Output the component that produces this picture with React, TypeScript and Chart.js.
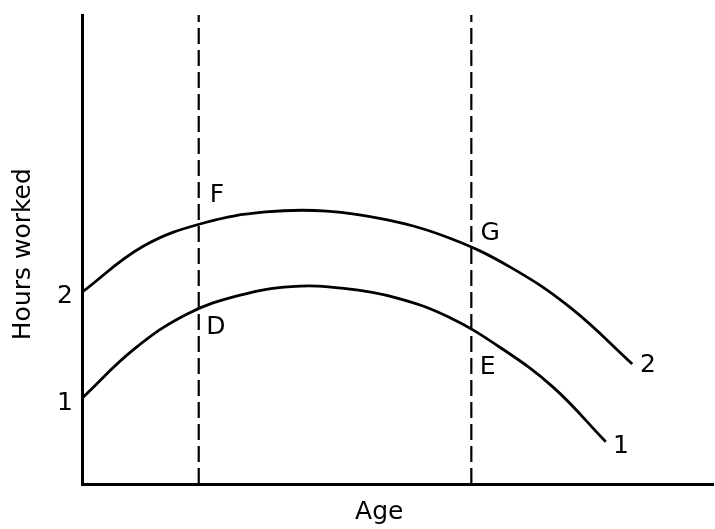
import React, { useEffect, useRef } from "react";
import { Chart, registerables } from "chart.js";

Chart.register(...registerables);

// Curve 1 (lower) and curve 2 (upper): hours worked vs age
const curve1X = [0, 8.3, 16.6, 24.9, 33.2, 41.5, 49.8, 58.1, 66.4, 74.7, 83.0];
const curve1Y = [18.3, 28.8, 36.2, 40.2, 42.1, 41.7, 39.7, 35.6, 29.0, 20.6, 9.0];
const curve2X = [0, 9.7, 19.4, 29.1, 38.8, 48.4, 58.1, 67.8, 77.5, 87.2];
const curve2Y = [40.9, 50.7, 55.7, 58.0, 58.2, 56.3, 52.5, 46.3, 37.5, 25.6];

// Vertical dashed age markers
const markerAges = [18.5, 61.7];
const markerRange = [0, 100];

// Point labels
const labelTexts = ["2", "1", "F", "D", "G", "E", "2", "1"];
const labelX = [-2.7, -2.7, 21.4, 21.2, 64.7, 64.3, 89.7, 85.4];
const labelY = [39.9, 17.1, 61.6, 33.3, 53.5, 24.9, 25.2, 8.1];

// Axis titles
const xTitle = "Age";
const yTitle = "Hours worked";

const FONT = '"DejaVu Sans", sans-serif';

const labelPlugin = {
  id: "labels",
  afterDatasetsDraw(chart: any) {
    const { ctx, scales, chartArea } = chart;
    const xs = scales.x;
    const ys = scales.y;
    ctx.save();
    ctx.fillStyle = "#000";
    ctx.textAlign = "center";
    ctx.textBaseline = "middle";
    ctx.font = `25px ${FONT}`;
    labelTexts.forEach((t, i) => {
      ctx.fillText(t, xs.getPixelForValue(labelX[i]), ys.getPixelForValue(labelY[i]));
    });
    ctx.font = `25px ${FONT}`;
    ctx.fillText(xTitle, xs.getPixelForValue(47.1), chartArea.bottom + 28);
    ctx.translate(chartArea.left - 59, ys.getPixelForValue(49.0));
    ctx.rotate(-Math.PI / 2);
    ctx.fillText(yTitle, 0, 0);
    ctx.restore();
  },
};

export default function App() {
  const ref = useRef<HTMLCanvasElement | null>(null);
  useEffect(() => {
    if (!ref.current) return;
    const mk = (xa: number[], ya: number[]) => xa.map((x, i) => ({ x, y: ya[i] }));
    const chart = new Chart(ref.current, {
      type: "line",
      data: {
        datasets: [
          {
            data: mk(curve1X, curve1Y),
            borderColor: "#000",
            borderWidth: 2.8,
            pointRadius: 0,
            tension: 0.4,
            clip: false as any,
          },
          {
            data: mk(curve2X, curve2Y),
            borderColor: "#000",
            borderWidth: 2.8,
            pointRadius: 0,
            tension: 0.4,
            clip: false as any,
          },
          ...markerAges.map((a) => ({
            data: markerRange.map((y) => ({ x: a, y })),
            borderColor: "#000",
            borderWidth: 2.2,
            borderDash: [16, 6],
            pointRadius: 0,
            clip: false as any,
          })),
        ],
      },
      options: {
        responsive: false,
        animation: false,
        events: [],
        layout: { padding: { left: 82, top: 15, right: 2, bottom: 45 } },
        plugins: { legend: { display: false }, tooltip: { enabled: false } },
        scales: {
          x: {
            type: "linear",
            min: 0,
            max: 100,
            grid: { display: false, drawTicks: false },
            ticks: { display: false },
            border: { display: true, color: "#000", width: 3 },
          },
          y: {
            type: "linear",
            min: 0,
            max: 100,
            grid: { display: false, drawTicks: false },
            ticks: { display: false },
            border: { display: true, color: "#000", width: 3 },
          },
        },
      },
      plugins: [labelPlugin],
    });
    return () => chart.destroy();
  }, []);
  return (
    <div style={{ position: "absolute", left: 0, top: 0, width: 715, height: 529, background: "#fff" }}>
      <canvas ref={ref} width={715} height={529} />
    </div>
  );
}
